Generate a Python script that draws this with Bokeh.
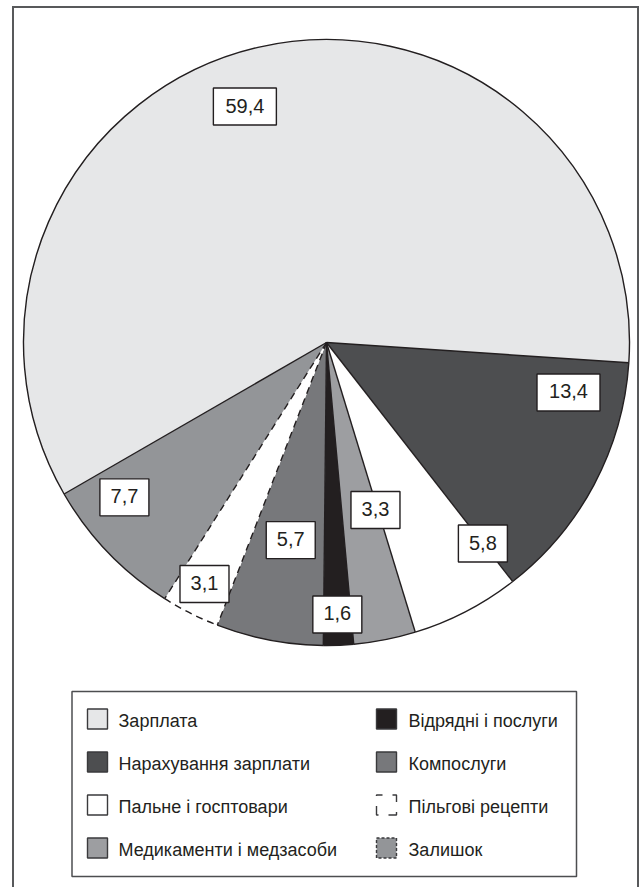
import numpy as np
from bokeh.plotting import figure
from bokeh.models import Range1d
from bokeh.core.properties import value
from bokeh.embed import file_html
from bokeh.resources import INLINE

# ---- data -------------------------------------------------------------
categories = [
    "Зарплата",
    "Нарахування зарплати",
    "Пальне і госптовари",
    "Медикаменти і медзасоби",
    "Відрядні і послуги",
    "Компослуги",
    "Пільгові рецепти",
    "Залишок",
]
shares = [59.4, 13.4, 5.8, 3.3, 1.6, 5.7, 3.1, 7.7]

# ---- styling ----------------------------------------------------------
fills = ["#e6e7e8", "#4d4e50", "#ffffff", "#9d9ea1",
         "#231f20", "#77787b", "#ffffff", "#939598"]
pie_dashed = [False, False, False, False, False, False, True, False]
legend_dash = ["solid", "solid", "solid", "solid",
               "solid", "solid", "11 10", "3 2"]
# label box placement: distance from centre and angular shift from slice middle
label_radius = [249.7, 247.1, 254.7, 174.5, 272.2, 200.8, 270.6, 254.6]
label_shift = [6.0, 16.3, 10.4, 5.2, 0.0, 0.6, -0.1, -6.4]

INK = "#231f20"
FONT = "Liberation Sans"
W, H = 642, 887
CX, CY, R = 326.0, H - 342.0, 303.0
START = 210.0  # angle (deg) where the first slice begins, drawn clockwise

p = figure(width=W, height=H, x_range=Range1d(0, W), y_range=Range1d(0, H),
           output_backend="svg", toolbar_location=None,
           x_axis_location=None, y_axis_location=None, min_border=0)
p.xgrid.visible = False
p.ygrid.visible = False
p.outline_line_color = None
p.background_fill_color = "white"
p.border_fill_color = "white"

# ---- pie --------------------------------------------------------------
vals = np.array(shares, dtype=float)
cum = np.concatenate([[0.0], np.cumsum(vals)]) / vals.sum() * 360.0
bounds = START - cum                      # slice i spans bounds[i+1] .. bounds[i]
n = len(vals)
starts = np.radians(bounds[1:])
ends = np.radians(bounds[:-1])

p.wedge(x=[CX] * n, y=[CY] * n, radius=R, start_angle=starts, end_angle=ends,
        direction="anticlock", fill_color=fills, line_color=None)

solid_idx = [i for i in range(n) if not pie_dashed[i]]
dash_idx = [i for i in range(n) if pie_dashed[i]]
p.arc(x=[CX] * len(solid_idx), y=[CY] * len(solid_idx), radius=R,
      start_angle=starts[solid_idx], end_angle=ends[solid_idx],
      direction="anticlock", line_color=INK, line_width=1.4)
p.arc(x=[CX] * len(dash_idx), y=[CY] * len(dash_idx), radius=R,
      start_angle=starts[dash_idx], end_angle=ends[dash_idx],
      direction="anticlock", line_color=INK, line_width=1.4, line_dash="7 5")

# radial boundaries: boundary j separates slices j-1 and j
solid_rays, dash_rays = [], []
for j in range(n):
    ang = np.radians(bounds[j])
    if pie_dashed[(j - 1) % n] or pie_dashed[j]:
        dash_rays.append(ang)
    else:
        solid_rays.append(ang)
p.ray(x=[CX] * len(solid_rays), y=[CY] * len(solid_rays), length=R,
      angle=solid_rays, line_color=INK, line_width=1.4)
p.ray(x=[CX] * len(dash_rays), y=[CY] * len(dash_rays), length=R,
      angle=dash_rays, line_color=INK, line_width=1.4, line_dash="7 5")

# ---- value labels in boxes ---------------------------------------------
labels = [f"{v:.1f}".replace(".", ",") for v in vals]
mids = (bounds[:-1] + bounds[1:]) / 2.0 + np.array(label_shift)
lx = CX + np.array(label_radius) * np.cos(np.radians(mids))
ly = CY + np.array(label_radius) * np.sin(np.radians(mids))
box_w = [7 + 14 * len(s) for s in labels]
p.rect(x=lx, y=ly, width=box_w, height=37, fill_color="white",
       line_color=INK, line_width=1.4)
p.text(x=lx, y=ly + 1, text=labels, text_font=value(FONT),
       text_font_size="20px", text_color=INK,
       text_align="center", text_baseline="middle")

# ---- outer frame (open at the bottom) ----------------------------------
p.line(x=[12.5, 12.5, 637.5, 637.5], y=[-5, H - 6.5, H - 6.5, -5],
       line_color="#58595b", line_width=2, line_join="miter")

# ---- legend -----------------------------------------------------------
p.quad(left=[71.5], right=[576], top=[H - 691], bottom=[H - 876],
       fill_color="white", line_color="#4d4e50", line_width=1.5)

sw_x = [97.0, 386.0]
tx_x = [118.0, 408.0]
for i, name in enumerate(categories):
    col, row = divmod(i, 4)
    yc = H - (718.5 + 43 * row)
    dash = legend_dash[i]
    p.rect(x=[sw_x[col]], y=[yc], width=20, height=20,
           fill_color=fills[i], line_color="#3a3a3c", line_width=1.4,
           line_dash=dash, line_dash_offset=5 if dash == "11 10" else 0)
    p.text(x=[tx_x[col]], y=[yc - 2], text=[name], text_font=value(FONT),
           text_font_size="18px", text_color=INK,
           text_align="left", text_baseline="middle")

open("out.html", "w").write(file_html(p, INLINE))
